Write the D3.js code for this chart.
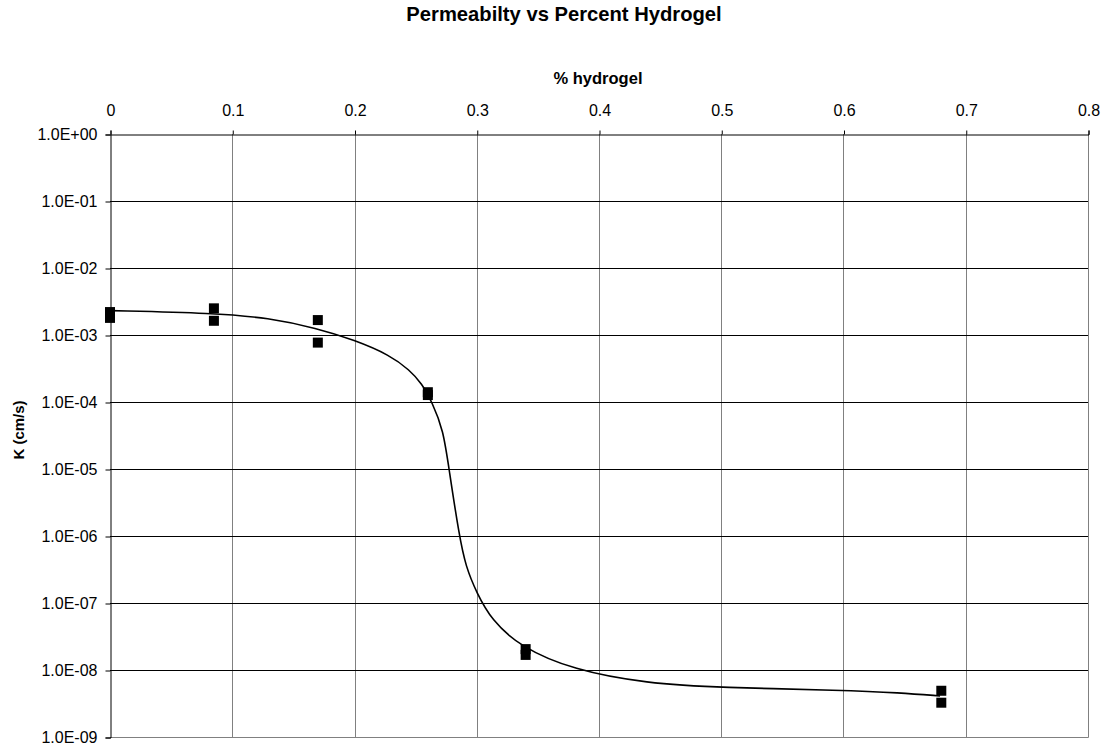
<!DOCTYPE html>
<html>
<head>
<meta charset="utf-8">
<script src="https://cdn.jsdelivr.net/npm/d3@7"></script>
<style>
  html, body { margin: 0; padding: 0; background: #fff; }
  svg { display: block; font-family: "Liberation Sans", Arial, sans-serif; }
</style>
</head>
<body>
<svg id="chart" width="1105" height="746"></svg>
<script>
// Measured permeability samples (% hydrogel, K in cm/s)
const sampleX = [0, 0, 0.085, 0.085, 0.17, 0.17, 0.26, 0.26, 0.34, 0.34, 0.68, 0.68];
const sampleK = [2.2e-3, 1.8e-3, 2.5e-3, 1.63e-3, 1.67e-3, 7.7e-4, 1.4e-4, 1.27e-4, 2.05e-8, 1.68e-8, 4.9e-9, 3.25e-9];

// Smoothed trend through the samples
const trendX = [0, 0.085, 0.13, 0.169, 0.2, 0.229, 0.245, 0.255, 0.2635, 0.2727, 0.2773, 0.2857, 0.291, 0.3, 0.312, 0.3354, 0.379, 0.439, 0.5, 0.6, 0.646, 0.679];
const trendK = [2.31e-3, 2.12e-3, 1.8e-3, 1.26e-3, 8.4e-4, 5.0e-4, 3.0e-4, 1.9e-4, 9.9e-5, 3.8e-5, 9.9e-6, 1.0e-6, 3.5e-7, 1.41e-7, 5.6e-8, 2.23e-8, 1.0e-8, 6.3e-9, 5.45e-9, 5.0e-9, 4.58e-9, 4.1e-9];

// Axis ticks
const xTicks = [0, 0.1, 0.2, 0.3, 0.4, 0.5, 0.6, 0.7, 0.8];
const xTickLabels = ["0", "0.1", "0.2", "0.3", "0.4", "0.5", "0.6", "0.7", "0.8"];
const yTicks = [1e0, 1e-1, 1e-2, 1e-3, 1e-4, 1e-5, 1e-6, 1e-7, 1e-8, 1e-9];
const yTickLabels = ["1.0E+00", "1.0E-01", "1.0E-02", "1.0E-03", "1.0E-04", "1.0E-05", "1.0E-06", "1.0E-07", "1.0E-08", "1.0E-09"];

const svg = d3.select("#chart");
const plot = { left: 110, right: 1088, top: 134, bottom: 737 };

const x = d3.scaleLinear().domain([0, 0.8]).range([plot.left, plot.right]);
const y = d3.scaleLog().domain([1e0, 1e-9]).range([plot.top, plot.bottom]);

// Vertical gridlines
svg.append("g")
  .selectAll("line")
  .data(xTicks.slice(1, -1))
  .join("line")
  .attr("x1", d => Math.round(x(d)) + 0.5).attr("x2", d => Math.round(x(d)) + 0.5)
  .attr("y1", plot.top).attr("y2", plot.bottom)
  .attr("stroke", "#808080").attr("stroke-width", 1);

// Horizontal gridlines
svg.append("g")
  .selectAll("line")
  .data(yTicks.slice(1, -1))
  .join("line")
  .attr("x1", plot.left).attr("x2", plot.right)
  .attr("y1", d => Math.round(y(d)) + 0.5).attr("y2", d => Math.round(y(d)) + 0.5)
  .attr("stroke", "#000").attr("stroke-width", 1);

// Plot frame: right and bottom edges
svg.append("path")
  .attr("d", `M${plot.left},${plot.bottom + 0.5}H${plot.right + 0.5}V${plot.top}`)
  .attr("fill", "none").attr("stroke", "#808080").attr("stroke-width", 1);

// Top axis
const xAxis = d3.axisTop(x)
  .tickValues(xTicks)
  .tickFormat((d, i) => xTickLabels[i])
  .tickSize(4)
  .tickPadding(15);
const gx = svg.append("g")
  .attr("transform", `translate(0.5,${plot.top + 0.5})`)
  .call(xAxis);
gx.select(".domain").attr("stroke", "#000");
gx.selectAll(".tick line").attr("stroke", "#000");
gx.selectAll(".tick text")
  .attr("font-family", "'Liberation Sans', Arial, sans-serif")
  .attr("font-size", 16).attr("fill", "#000");

// Left axis
const yAxis = d3.axisLeft(y)
  .tickValues(yTicks)
  .tickFormat((d, i) => yTickLabels[i])
  .tickSize(5)
  .tickPadding(8);
const gy = svg.append("g")
  .attr("transform", `translate(${plot.left + 0.5},0.5)`)
  .call(yAxis);
gy.select(".domain").attr("stroke", "#000");
gy.selectAll(".tick line").attr("stroke", "#000");
gy.selectAll(".tick text")
  .attr("font-family", "'Liberation Sans', Arial, sans-serif")
  .attr("font-size", 16).attr("fill", "#000");

// Trend curve (B-spline smoothing through the trend points)
const trend = trendX.map((d, i) => [d, trendK[i]]);
svg.append("path")
  .datum(trend)
  .attr("fill", "none")
  .attr("stroke", "#000")
  .attr("stroke-width", 1.6)
  .attr("d", d3.line()
    .x(d => x(d[0]))
    .y(d => y(d[1]))
    .curve(d3.curveBasis));

// Sample markers
const size = 10;
svg.append("g")
  .selectAll("rect")
  .data(sampleX.map((d, i) => [d, sampleK[i]]))
  .join("rect")
  .attr("x", d => x(d[0]) - size / 2)
  .attr("y", d => y(d[1]) - size / 2)
  .attr("width", size).attr("height", size)
  .attr("fill", "#000");

// Titles
svg.append("text")
  .attr("x", 564).attr("y", 21)
  .attr("text-anchor", "middle")
  .attr("font-weight", "bold").attr("font-size", 20.2)
  .text("Permeabilty vs Percent Hydrogel");

svg.append("text")
  .attr("x", 598).attr("y", 84)
  .attr("text-anchor", "middle")
  .attr("font-weight", "bold").attr("font-size", 16.5)
  .text("% hydrogel");

svg.append("text")
  .attr("transform", "translate(24,430) rotate(-90)")
  .attr("text-anchor", "middle")
  .attr("font-weight", "bold").attr("font-size", 15)
  .text("K (cm/s)");
</script>
</body>
</html>
